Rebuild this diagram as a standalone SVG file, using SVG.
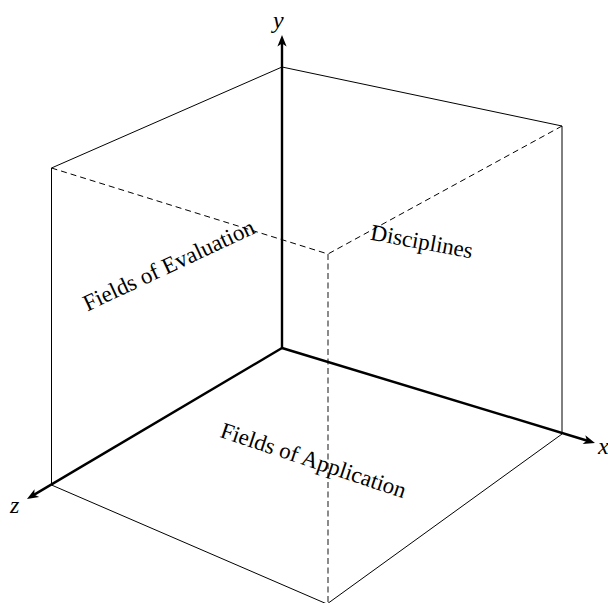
<svg xmlns="http://www.w3.org/2000/svg" width="608" height="603" viewBox="0 0 608 603">
  <style>
    .edge { stroke: #000; stroke-width: 1; fill: none; }
    .hidden { stroke: #000; stroke-width: 1; stroke-dasharray: 6 4; fill: none; }
    .hidden-v { stroke: #6e6e6e; stroke-width: 1.6; stroke-dasharray: 6 3.5; fill: none; }
    .axis { stroke: #000; stroke-width: 2.4; fill: none; marker-end: url(#arrow); }
    .lbl { font-family: "Liberation Serif", "Times New Roman", serif; font-size: 23px; fill: #000; }
    .axlbl { font-family: "Liberation Serif", "Times New Roman", serif; font-style: italic; font-size: 24px; fill: #000; }
  </style>
  <defs>
    <marker id="arrow" markerUnits="userSpaceOnUse" viewBox="-6 -6 14 12" markerWidth="14" markerHeight="12" refX="0" refY="0" orient="auto" overflow="visible">
      <path d="M7,0 L-4.5,-4.6 L-1.5,0 L-4.5,4.6 Z" fill="#000"/>
    </marker>
  </defs>
  <rect width="608" height="603" fill="#fff"/>
  <g id="cube">
    <line class="edge" x1="282" y1="67" x2="562" y2="126"/>
    <line class="edge" x1="282" y1="67" x2="51.5" y2="168"/>
    <line class="edge" x1="51.5" y1="168" x2="51.5" y2="485" stroke="#444"/>
    <line class="edge" x1="562" y1="126" x2="562" y2="434"/>
    <line class="edge" x1="51.5" y1="485" x2="327" y2="604"/>
    <line class="edge" x1="562" y1="434" x2="327" y2="604"/>
    <line class="hidden" x1="51.5" y1="168" x2="328" y2="254"/>
    <line class="hidden" x1="562" y1="126" x2="328" y2="254"/>
    <line class="hidden-v" x1="328" y1="254" x2="328" y2="603"/>
  </g>
  <g id="connectors">
    <line id="axis-y" class="axis" x1="282" y1="348" x2="282" y2="42"/>
    <line id="axis-x" class="axis" x1="282" y1="348" x2="588.3" y2="441"/>
    <line id="axis-z" class="axis" x1="282" y1="348" x2="33" y2="495.4"/>
  </g>
  <g id="axis-labels">
    <text id="label-y" class="axlbl" x="273" y="28">y</text>
    <text id="label-x" class="axlbl" x="598" y="454">x</text>
    <text id="label-z" class="axlbl" x="10" y="513">z</text>
  </g>
  <g id="plane-evaluation">
    <text class="lbl" text-anchor="middle" transform="translate(172 272) rotate(-25)">Fields of Evaluation</text>
  </g>
  <g id="plane-disciplines">
    <text class="lbl" text-anchor="middle" transform="translate(420.5 249) rotate(10.5)">Disciplines</text>
  </g>
  <g id="plane-application">
    <text class="lbl" text-anchor="middle" transform="translate(311 467.5) rotate(18.5)">Fields of Application</text>
  </g>
</svg>
